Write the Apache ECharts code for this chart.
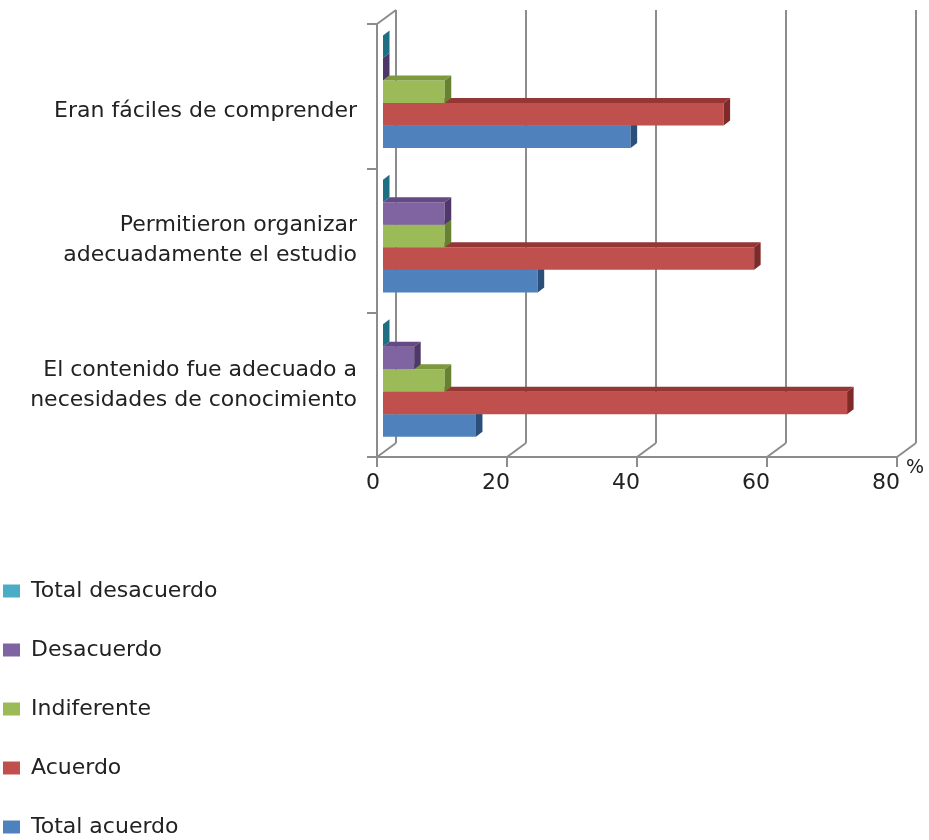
<!DOCTYPE html>
<html><head><meta charset="utf-8">
<script src="https://cdn.jsdelivr.net/npm/echarts@6/dist/echarts.min.js"></script>
<style>html,body{margin:0;padding:0;background:#fff}#c{width:929px;height:840px}</style>
</head><body><div id="c"></div>
<script>
// ---- data ----
const categories = ['Eran fáciles de comprender', 'Permitieron organizar\nadecuadamente el estudio', 'El contenido fue adecuado a\nnecesidades de conocimiento'];
const xTicks = [0, 20, 40, 60, 80];
const seriesNames = ['Total desacuerdo', 'Desacuerdo', 'Indiferente', 'Acuerdo', 'Total acuerdo'];
const totalDesacuerdo = [0, 0, 0];
const desacuerdo = [0, 9.5, 4.8];
const indiferente = [9.5, 9.5, 9.5];
const acuerdo = [52.4, 57.1, 71.4];
const totalAcuerdo = [38.1, 23.8, 14.3];

// ---- style ----
const FONT = 'DejaVu Sans';
const GRID_COLOR = '#8c8c8c';
const BACK_DX = 19, BACK_DY = -14;   // depth of the back wall
const DX0 = 6, DY0 = -4.4;           // bar front plane offset
const DX = 6.5, DY = -5;             // bar depth
const palette = {
  'Total desacuerdo': {front: '#4BACC6', top: '#2f8aa3', side: '#1f6f84'},
  'Desacuerdo': {front: '#8064A2', top: '#644a84', side: '#4e386a'},
  'Indiferente': {front: '#9BBB59', top: '#7c9a3d', side: '#66812f'},
  'Acuerdo': {front: '#C0504D', top: '#963634', side: '#7d2a28'},
  'Total acuerdo': {front: '#4F81BD', top: '#3a6497', side: '#2c4f7a'}
};
const valuesByName = {
  'Total desacuerdo': totalDesacuerdo,
  'Desacuerdo': desacuerdo,
  'Indiferente': indiferente,
  'Acuerdo': acuerdo,
  'Total acuerdo': totalAcuerdo
};

function barRenderer(slot, c) {
  return function (params, api) {
    const cat = api.value(1), v = api.value(0);
    const p0 = api.coord([0, cat]);
    const p1 = api.coord([v, cat]);
    const band = api.size([0, 1])[1];
    const h = band * 0.156;
    const x0 = p0[0] + DX0, x1 = p1[0] + DX0;
    const yTop = p0[1] + DY0 - 2.5 * h + slot * h;
    const yBot = yTop + h;
    return {
      type: 'group', children: [
        {type: 'rect', shape: {x: x0, y: yTop, width: x1 - x0, height: h}, style: {fill: c.front}},
        {type: 'polygon', shape: {points: [[x0, yTop], [x0 + DX, yTop + DY], [x1 + DX, yTop + DY], [x1, yTop]]}, style: {fill: c.top}},
        {type: 'polygon', shape: {points: [[x1, yTop], [x1 + DX, yTop + DY], [x1 + DX, yBot + DY], [x1, yBot]]}, style: {fill: c.side}}
      ]
    };
  };
}

// draw order: bottom bar first so upper bars cover lower bars' top faces
const drawOrder = ['Total acuerdo', 'Acuerdo', 'Indiferente', 'Desacuerdo', 'Total desacuerdo'];
const barSeries = drawOrder.map(name => {
  const slot = seriesNames.indexOf(name);
  return {
    name: name,
    type: 'custom',
    xAxisIndex: 0, yAxisIndex: 0,
    itemStyle: {color: palette[name].front},
    encode: {x: 0, y: 1},
    renderItem: barRenderer(slot, palette[name]),
    data: valuesByName[name].map((v, i) => [v, i]),
    z: 5
  };
});

const connectorSeries = {
  type: 'custom',
  xAxisIndex: 0, yAxisIndex: 0,
  silent: true,
  encode: {x: 0, y: 1},
  z: 3,
  renderItem: function (params, api) {
    const t = api.value(0);
    const cs = params.coordSys;
    const x = api.coord([t, 0])[0];
    const yb = cs.y + cs.height;
    const children = [
      {type: 'line', shape: {x1: x, y1: yb, x2: x + BACK_DX, y2: yb + BACK_DY}, style: {stroke: GRID_COLOR, lineWidth: 2}}
    ];
    if (t === xTicks[0]) {
      children.push({type: 'line', shape: {x1: x, y1: cs.y, x2: x + BACK_DX, y2: cs.y + BACK_DY}, style: {stroke: GRID_COLOR, lineWidth: 2}});
    }
    return {type: 'group', children: children};
  },
  data: xTicks.map(t => [t, 0])
};

const chart = echarts.init(document.getElementById('c'));
chart.setOption({
  backgroundColor: '#ffffff',
  animation: false,
  textStyle: {fontFamily: FONT},
  grid: [
    {left: 377, top: 24, width: 520, height: 433},
    {left: 377 + BACK_DX, top: 24 + BACK_DY, width: 520, height: 433}
  ],
  xAxis: [
    {
      type: 'value', gridIndex: 0, min: 0, max: 80, interval: 20,
      axisLine: {show: true, lineStyle: {color: GRID_COLOR, width: 2}},
      axisTick: {show: true, length: 10, lineStyle: {color: GRID_COLOR, width: 2}},
      splitLine: {show: false},
      axisLabel: {show: true, align: 'right', margin: 15, fontSize: 22, color: '#222', fontFamily: FONT, padding: [0, -3, 0, 0]},
      name: '%', nameLocation: 'end', nameGap: 6,
      nameTextStyle: {fontSize: 19, color: '#222', fontFamily: FONT, verticalAlign: 'top', align: 'left', padding: [2, 0, 0, 0]}
    },
    {
      type: 'value', gridIndex: 1, min: 0, max: 80, interval: 20,
      axisLine: {show: false}, axisTick: {show: false}, axisLabel: {show: false},
      splitLine: {show: true, lineStyle: {color: GRID_COLOR, width: 2}}
    }
  ],
  yAxis: [
    {
      type: 'category', gridIndex: 0, inverse: true,
      data: categories,
      axisLine: {show: true, lineStyle: {color: GRID_COLOR, width: 2}},
      axisTick: {show: true, length: 10, lineStyle: {color: GRID_COLOR, width: 2}},
      axisLabel: {
        margin: 20, fontSize: 22, lineHeight: 30, color: '#222', fontFamily: FONT, align: 'right',
        formatter: function (v, i) { return i === 0 ? '\n' + v : v; }
      },
      splitLine: {show: false}
    },
    {
      type: 'category', gridIndex: 1, inverse: true, data: categories,
      show: false
    }
  ],
  legend: {
    orient: 'vertical', left: 3, top: 580, padding: 0,
    height: 259,
    data: seriesNames,
    icon: 'rect', itemWidth: 17, itemHeight: 13, itemGap: 37,
    textStyle: {fontSize: 22, color: '#222', fontFamily: FONT, padding: [0, 0, 0, 6]},
    selectedMode: false
  },
  series: [connectorSeries].concat(barSeries)
});
</script>
</body></html>
